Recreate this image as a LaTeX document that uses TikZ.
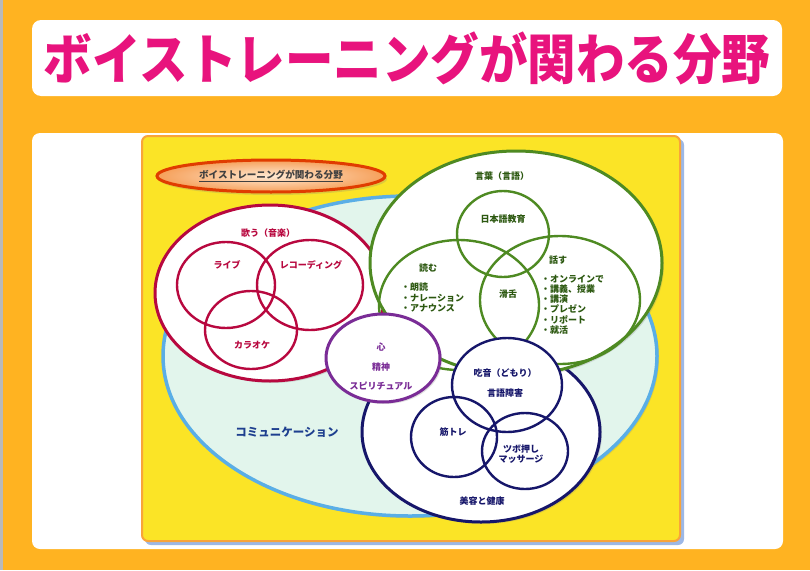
\documentclass[tikz,border=0pt]{standalone}
\usepackage{fontspec}
\setmainfont{Noto Sans CJK JP}
\usetikzlibrary{shadows}
\definecolor{bgorange}{HTML}{FFB321}
\definecolor{boxyellow}{HTML}{FBE426}
\definecolor{boxorange}{HTML}{F9A43A}
\definecolor{boxshadow}{HTML}{9DB8E6}
\definecolor{titlepink}{HTML}{E8137D}
\definecolor{tagred}{HTML}{E03C00}
\definecolor{tagin}{HTML}{FFE9D2}
\definecolor{tagout}{HTML}{F6A05A}
\definecolor{commline}{HTML}{5AAEE6}
\definecolor{commfill}{HTML}{E2F5EC}
\definecolor{commtext}{HTML}{1E3F8F}
\definecolor{musiccol}{HTML}{B8083F}
\definecolor{wordline}{HTML}{4E8A22}
\definecolor{wordtext}{HTML}{2C5810}
\definecolor{mindcol}{HTML}{7A2C96}
\definecolor{bodycol}{HTML}{16166A}
\tikzset{
  lab/.style={font=\bfseries\fontsize{9}{10.2}\selectfont,inner sep=0pt},
  biglobe/.style={draw=#1,fill=white,line width=3pt,drop shadow={opacity=.25,shadow xshift=2pt,shadow yshift=-2pt}},
  smallglobe/.style={draw=#1,line width=2.4pt}
}
\begin{document}
\begin{tikzpicture}[x=1pt,y=-1pt]
\useasboundingbox (0,0) rectangle (810,570);
\fill[bgorange] (0,0) rectangle (810,570); \fill[gray!55] (0,0) rectangle (3,570);
\fill[white,rounded corners=9pt] (32,20) rectangle (782,96);
\node[titlepink,font=\bfseries\fontsize{48.5}{48}\selectfont,inner sep=0pt] (title) at (407,58) {\scalebox{1}[1.12]{ボイストレーニングが関わる分野}};
\fill[white,rounded corners=8pt] (32,133) rectangle (783,549);
\fill[boxshadow,rounded corners=6pt] (145,139) rectangle (684,545);
\draw[fill=boxyellow,draw=boxorange,line width=2pt,rounded corners=6pt] (142,136) rectangle (680,541);
\coordinate (tag) at (271,176); \coordinate (comm) at (410,356); \coordinate (music) at (270,293);
\coordinate (words) at (516,263); \coordinate (body) at (481,432); \coordinate (mind) at (383,358);
\draw[commline,fill=commfill,line width=3.5pt,drop shadow={opacity=.2,shadow xshift=2pt,shadow yshift=-2pt}] (comm) ellipse[x radius=247pt,y radius=160pt];
\draw[tagred,line width=3pt,inner color=tagin,outer color=tagout,drop shadow={opacity=.25,shadow xshift=2pt,shadow yshift=-3pt}] (tag) ellipse[x radius=114pt,y radius=16pt];
\node[lab,text=black!75,font=\bfseries\fontsize{9.6}{10}\selectfont] (tagtext) at (tag) {\underline{ボイストレーニングが関わる分野}};
\node[lab,commtext,font=\bfseries\fontsize{11.5}{12}\selectfont] (commtext) at (287,432) {コミュニケーション};
\draw[biglobe=musiccol] (music) ellipse[x radius=115pt,y radius=88pt];
\draw[smallglobe=musiccol] (226,285) ellipse[x radius=49pt,y radius=43pt] (310,285) ellipse[x radius=53pt,y radius=45pt] (251,330) ellipse[x radius=46pt,y radius=39pt];
\node[lab,musiccol] (sing) at (268,233) {歌う（音楽）};
\node[lab,musiccol] (live) at (227,265) {ライブ};
\node[lab,musiccol] (rec) at (311,265) {レコーディング};
\node[lab,musiccol] (karaoke) at (252,345) {カラオケ};
\draw[biglobe=bodycol] (body) ellipse[x radius=119pt,y radius=90pt];
\draw[biglobe=wordline] (words) ellipse[x radius=146pt,y radius=112pt];
\draw[smallglobe=wordline] (503,234) ellipse[x radius=46pt,y radius=43pt] (459,305) ellipse[x radius=80pt,y radius=65pt] (560,300) ellipse[x radius=80pt,y radius=64pt];
\node[lab,wordtext] (lang) at (502,176) {言葉（言語）};
\node[lab,wordtext] (jpedu) at (503,219) {日本語教育};
\node[lab,wordtext] (read) at (428,268) {読む};
\node[lab,wordtext,anchor=west,align=left] (readlist) at (401,297.5) {・朗読\\・ナレーション\\・アナウンス};
\node[lab,wordtext] (speak) at (558,260) {話す};
\node[lab,wordtext,anchor=west,align=left] (speaklist) at (541,304.5) {・オンラインで\\・講義、授業\\・講演\\・プレゼン\\・リポート\\・就活};
\node[lab,wordtext] (diction) at (508,294) {滑舌};
\draw[smallglobe=bodycol,fill=white] (507,385) ellipse[x radius=55pt,y radius=47pt];
\draw[smallglobe=bodycol] (454,437) ellipse[x radius=43pt,y radius=40pt] (525,451) ellipse[x radius=43pt,y radius=38pt];
\node[lab,bodycol] (stutter) at (505,373) {吃音（どもり）};
\node[lab,bodycol] (speech) at (505,393) {言語障害};
\node[lab,bodycol] (muscle) at (453,432) {筋トレ};
\node[lab,bodycol,align=center] (massage) at (521,454) {ツボ押し\\マッサージ};
\node[lab,bodycol] (beauty) at (482,501) {美容と健康};
\draw[biglobe=mindcol] (mind) ellipse[x radius=57pt,y radius=44pt];
\node[lab,mindcol] (heart) at (381,347) {心};
\node[lab,mindcol] (spirit) at (381,367) {精神};
\node[lab,mindcol] (spiritual) at (381,386) {スピリチュアル};
\end{tikzpicture}
\end{document}
